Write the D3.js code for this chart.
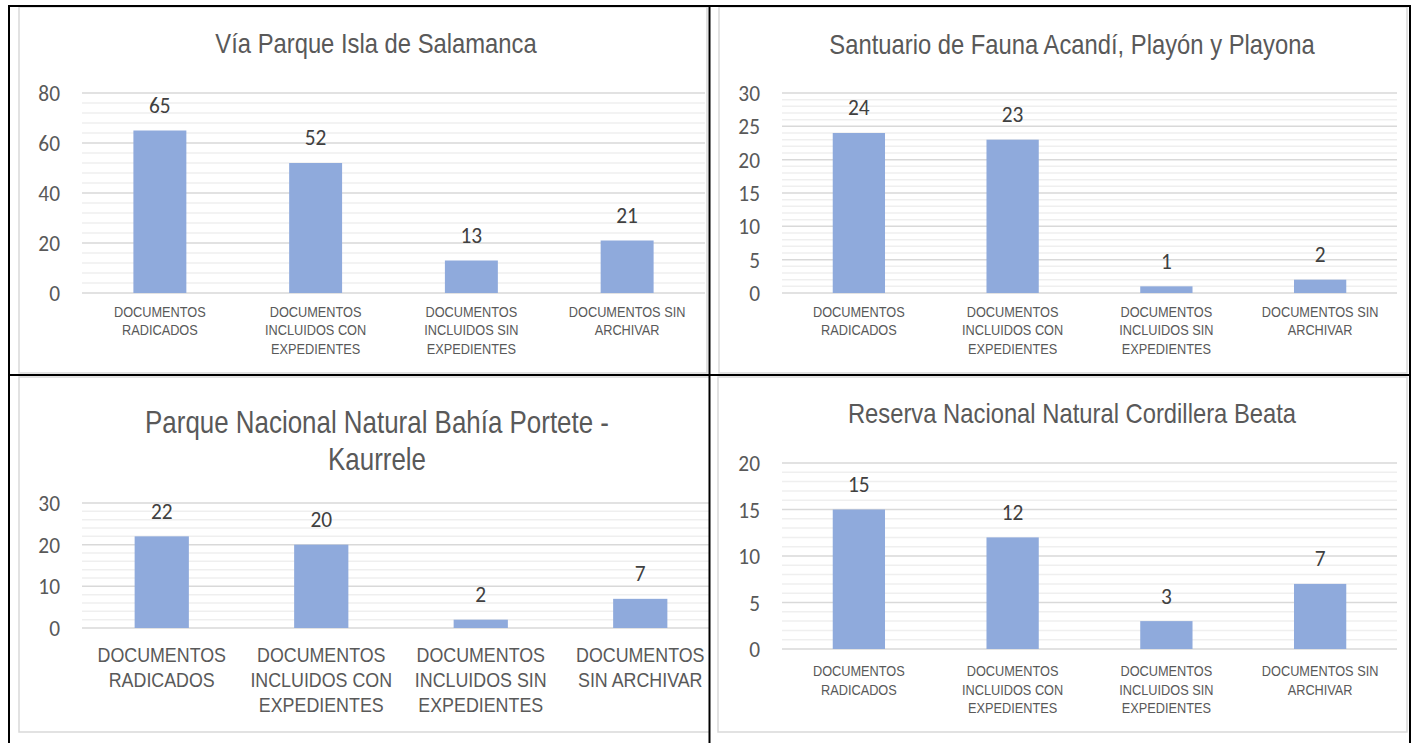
<!DOCTYPE html>
<html>
<head>
<meta charset="utf-8">
<script src="https://cdn.jsdelivr.net/npm/d3@7"></script>
<style>
    html, body { margin: 0; padding: 0; background: #fff; }
    svg { display: block; }
</style>
</head>
<body>
<div id="chart"></div>
<script>
// ---- data ----
const titles = [
    ['Vía Parque Isla de Salamanca'],
    ['Santuario de Fauna Acandí, Playón y Playona'],
    ['Parque Nacional Natural Bahía Portete -', 'Kaurrele'],
    ['Reserva Nacional Natural Cordillera Beata']
];
const categories = [
    'DOCUMENTOS RADICADOS',
    'DOCUMENTOS INCLUIDOS CON EXPEDIENTES',
    'DOCUMENTOS INCLUIDOS SIN EXPEDIENTES',
    'DOCUMENTOS SIN ARCHIVAR'
];
// wrapped tick labels as they appear in the small charts and in the large-font chart
const categoryLines = [
    ['DOCUMENTOS', 'RADICADOS'],
    ['DOCUMENTOS', 'INCLUIDOS CON', 'EXPEDIENTES'],
    ['DOCUMENTOS', 'INCLUIDOS SIN', 'EXPEDIENTES'],
    ['DOCUMENTOS SIN', 'ARCHIVAR']
];
const categoryLinesWide = [
    ['DOCUMENTOS', 'RADICADOS'],
    ['DOCUMENTOS', 'INCLUIDOS CON', 'EXPEDIENTES'],
    ['DOCUMENTOS', 'INCLUIDOS SIN', 'EXPEDIENTES'],
    ['DOCUMENTOS', 'SIN ARCHIVAR']
];
const salamanca = [65, 52, 13, 21];
const acandi = [24, 23, 1, 2];
const portete = [22, 20, 2, 7];
const beata = [15, 12, 3, 7];
const yTicks = [
    [0, 20, 40, 60, 80],
    [0, 5, 10, 15, 20, 25, 30],
    [0, 10, 20, 30],
    [0, 5, 10, 15, 20]
];
const minorSteps = [4, 1, 2, 1];

// ---- layout ----
const W = 1413, H = 743;
const K = 0.85; // horizontal squeeze of the pasted charts
const NUM_FONT = 22.5;
const COLORS = {
    bar: '#8faadc', title: '#595959', axis: '#595959', label: '#404040',
    major: '#d9d9d9', minor: '#efefef', frame: '#d9d9d9', table: '#000'
};

const layout = [
    { cell: [9, 6, 709, 375], area: [19, 7, 707, 373], plot: [82, 705, 93, 293],
      titleX: 376, titleY: [53], titleFont: 28, labelX: 60, lines: categoryLines, catFont: 15, catY: 317, catGap: 18.5 },
    { cell: [709, 6, 1410, 375], area: [719, 7, 1407, 373], plot: [782, 1397, 93, 293],
      titleX: 1072, titleY: [54], titleFont: 28, labelX: 760, lines: categoryLines, catFont: 15, catY: 317, catGap: 18.5 },
    { cell: [9, 375, 709, 743], area: [19, 377, 722, 732], plot: [82, 720, 503, 628],
      titleX: 377, titleY: [433, 470], titleFont: 30.5, labelX: 60, lines: categoryLinesWide, catFont: 21, catY: 662, catGap: 25 },
    { cell: [709, 375, 1410, 743], area: [718, 377, 1407, 732], plot: [782, 1397, 463, 649],
      titleX: 1072, titleY: [423], titleFont: 28, labelX: 760, lines: categoryLines, catFont: 15, catY: 676, catGap: 18.7 }
];
const series = [salamanca, acandi, portete, beata];

const svg = d3.select('#chart').append('svg')
    .attr('width', W)
    .attr('height', H);

// squeezed text helper: x is the real pixel position
function sText(g, x, y, text, k = K) {
    return g.append('text')
        .attr('x', x / k)
        .attr('y', y)
        .attr('transform', `scale(${k},1)`)
        .text(text);
}

function drawChart(i) {
    const L = layout[i];
    const values = series[i];
    const ticks = yTicks[i];
    const yMax = d3.max(ticks);

    const clipId = `clip-${i}`;
    svg.append('clipPath').attr('id', clipId)
        .append('rect')
        .attr('x', L.cell[0]).attr('y', L.cell[1])
        .attr('width', L.cell[2] - L.cell[0]).attr('height', L.cell[3] - L.cell[1]);

    const g = svg.append('g').attr('clip-path', `url(#${clipId})`);

    // chart area frame
    g.append('rect')
        .attr('x', L.area[0]).attr('y', L.area[1])
        .attr('width', L.area[2] - L.area[0]).attr('height', L.area[3] - L.area[1])
        .attr('fill', '#fff')
        .attr('stroke', COLORS.frame)
        .attr('stroke-width', 1.5);

    const x = d3.scaleBand()
        .domain(categories)
        .range([L.plot[0], L.plot[1]])
        .paddingInner(0.66)
        .paddingOuter(0.33);

    const y = d3.scaleLinear()
        .domain([0, yMax])
        .range([L.plot[3], L.plot[2]]);

    // minor gridlines
    const minor = d3.range(0, yMax + 1e-9, minorSteps[i]).filter(v => !ticks.includes(v));
    g.append('g').selectAll('line')
        .data(minor)
        .join('line')
        .attr('x1', L.plot[0]).attr('x2', L.plot[1])
        .attr('y1', d => y(d)).attr('y2', d => y(d))
        .attr('stroke', COLORS.minor)
        .attr('stroke-width', 1.5);

    // major gridlines
    g.append('g').selectAll('line')
        .data(ticks)
        .join('line')
        .attr('x1', L.plot[0]).attr('x2', L.plot[1])
        .attr('y1', d => y(d)).attr('y2', d => y(d))
        .attr('stroke', COLORS.major)
        .attr('stroke-width', 1.5);

    // y tick labels
    const yl = g.append('g')
        .attr('font-family', 'Carlito, Lato, sans-serif')
        .attr('font-size', NUM_FONT)
        .attr('fill', COLORS.axis)
        .attr('text-anchor', 'end');
    ticks.forEach(t => {
        sText(yl, L.labelX, y(t), t, 0.95).attr('dy', '0.36em');
    });

    // bars
    g.append('g').selectAll('rect')
        .data(values)
        .join('rect')
        .attr('x', (d, j) => x(categories[j]))
        .attr('width', x.bandwidth())
        .attr('y', d => y(d))
        .attr('height', d => y(0) - y(d))
        .attr('fill', COLORS.bar);

    // data labels
    const dl = g.append('g')
        .attr('font-family', 'Carlito, Lato, sans-serif')
        .attr('font-size', NUM_FONT)
        .attr('fill', COLORS.label)
        .attr('text-anchor', 'middle');
    values.forEach((v, j) => {
        sText(dl, x(categories[j]) + x.bandwidth() / 2, y(v) - 17.5, v, 0.95);
    });

    // category labels
    const cl = g.append('g')
        .attr('font-family', '"Liberation Sans", Arial, sans-serif')
        .attr('font-size', L.catFont)
        .attr('fill', COLORS.axis)
        .attr('text-anchor', 'middle');
    L.lines.forEach((lines, j) => {
        const cx = x(categories[j]) + x.bandwidth() / 2;
        lines.forEach((line, k) => {
            sText(cl, cx, L.catY + k * L.catGap, line);
        });
    });

    // title
    const tg = g.append('g')
        .attr('font-family', '"Liberation Sans", Arial, sans-serif')
        .attr('font-size', L.titleFont)
        .attr('fill', COLORS.title)
        .attr('text-anchor', 'middle');
    titles[i].forEach((line, k) => {
        sText(tg, L.titleX, L.titleY[k], line);
    });
}

layout.forEach((_, i) => drawChart(i));

// table borders
const tbl = svg.append('g')
    .attr('stroke', COLORS.table)
    .attr('stroke-width', 2);
tbl.append('line').attr('x1', 8).attr('x2', 1411).attr('y1', 6).attr('y2', 6);
tbl.append('line').attr('x1', 8).attr('x2', 1411).attr('y1', 375).attr('y2', 375);
tbl.append('line').attr('x1', 9).attr('x2', 9).attr('y1', 5).attr('y2', H);
tbl.append('line').attr('x1', 709.5).attr('x2', 709.5).attr('y1', 5).attr('y2', H);
tbl.append('line').attr('x1', 1410).attr('x2', 1410).attr('y1', 5).attr('y2', H);
</script>
</body>
</html>
